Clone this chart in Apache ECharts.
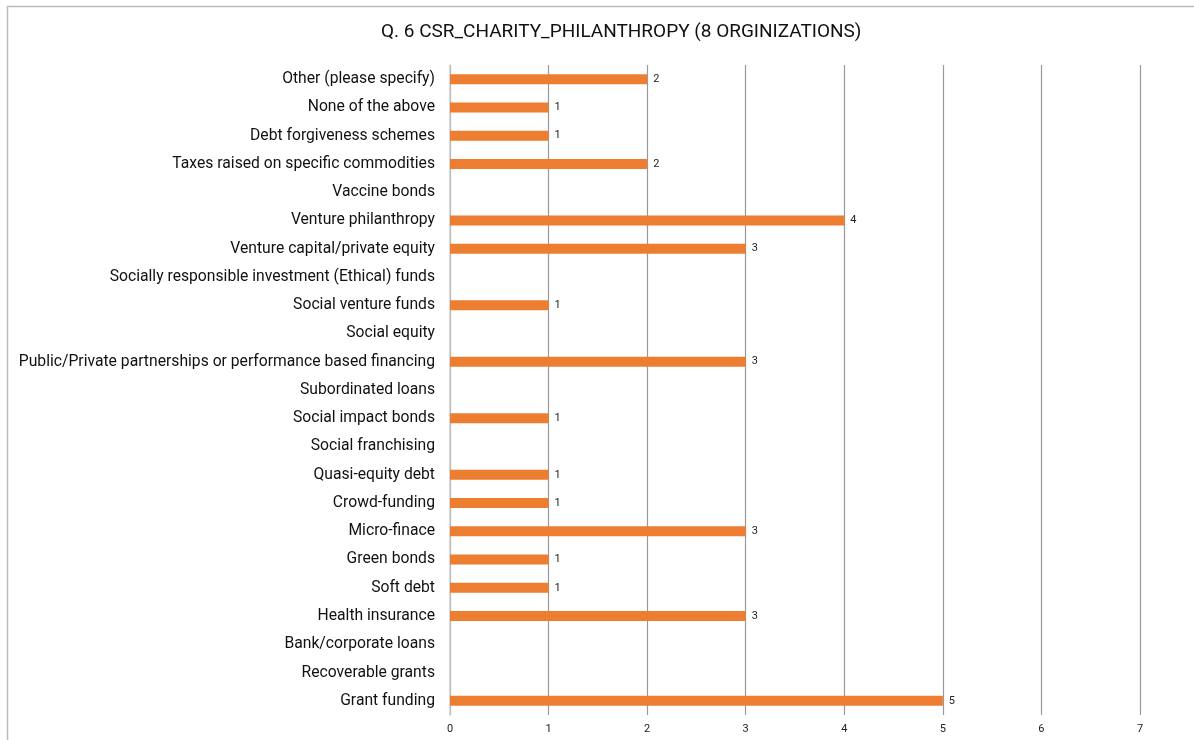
<!DOCTYPE html>
<html>
<head>
<meta charset="utf-8">
<script src="https://cdn.jsdelivr.net/npm/echarts@6/dist/echarts.min.js"></script>
<style>
  html, body { margin: 0; padding: 0; background: #fff; }
  #chart { width: 1194px; height: 740px; }
</style>
</head>
<body>
<div id="chart"></div>
<script>
// categories, bottom to top as on the axis
var categories = [
  'Grant funding', 'Recoverable grants', 'Bank/corporate loans', 'Health insurance',
  'Soft debt', 'Green bonds', 'Micro-finace', 'Crowd-funding', 'Quasi-equity debt',
  'Social franchising', 'Social impact bonds', 'Subordinated loans',
  'Public/Private partnerships or performance based financing', 'Social equity',
  'Social venture funds', 'Socially responsible investment (Ethical) funds',
  'Venture capital/private equity', 'Venture philanthropy', 'Vaccine bonds',
  'Taxes raised on specific commodities', 'Debt forgiveness schemes',
  'None of the above', 'Other (please specify)'
];
// null = no answer (no bar, no label)
var counts = [5, null, null, 3, 1, 1, 3, 1, 1, null, 1, null, 3, null, 1, null, 3, 4, null, 2, 1, 1, 2];
var xTicks = [0, 1, 2, 3, 4, 5, 6, 7];

var chart = echarts.init(document.getElementById('chart'));

var option = {
  backgroundColor: '#fff',
  textStyle: { fontFamily: 'Roboto' },
  title: {
    text: 'Q. 6 CSR_CHARITY_PHILANTHROPY (8 ORGINIZATIONS)',
    left: 376,
    top: 18,
    textStyle: { fontSize: 19, fontWeight: 'normal', color: '#111', fontFamily: 'Roboto' }
  },
  // outer frame of the original chart box
  graphic: [{
    type: 'rect',
    shape: { x: 7.5, y: 6.5, width: 1200, height: 800 },
    style: { fill: 'none', stroke: '#bbb', lineWidth: 1.5 },
    silent: true
  }],
  grid: { left: 450, right: 54, top: 65, bottom: 25, containLabel: false },
  xAxis: {
    type: 'value',
    min: xTicks[0],
    max: xTicks[xTicks.length - 1],
    interval: 1,
    axisLine: { show: false },
    axisTick: { show: false },
    axisLabel: { color: '#222', fontSize: 11, margin: 9 },
    splitLine: { show: true, lineStyle: { color: '#999', width: 1.2 } }
  },
  yAxis: {
    type: 'category',
    data: categories,
    axisLine: { show: true, lineStyle: { color: '#ccc', width: 1.5 } },
    axisTick: { show: false },
    axisLabel: { color: '#111', fontSize: 15.7, margin: 15 },
    splitLine: { show: false }
  },
  series: [{
    type: 'bar',
    data: counts,
    barWidth: 10,
    itemStyle: { color: '#ED7D31' },
    label: {
      show: true,
      position: 'right',
      distance: 6,
      fontSize: 11,
      color: '#222'
    },
    silent: true
  }]
};

chart.setOption(option);
</script>
</body>
</html>
